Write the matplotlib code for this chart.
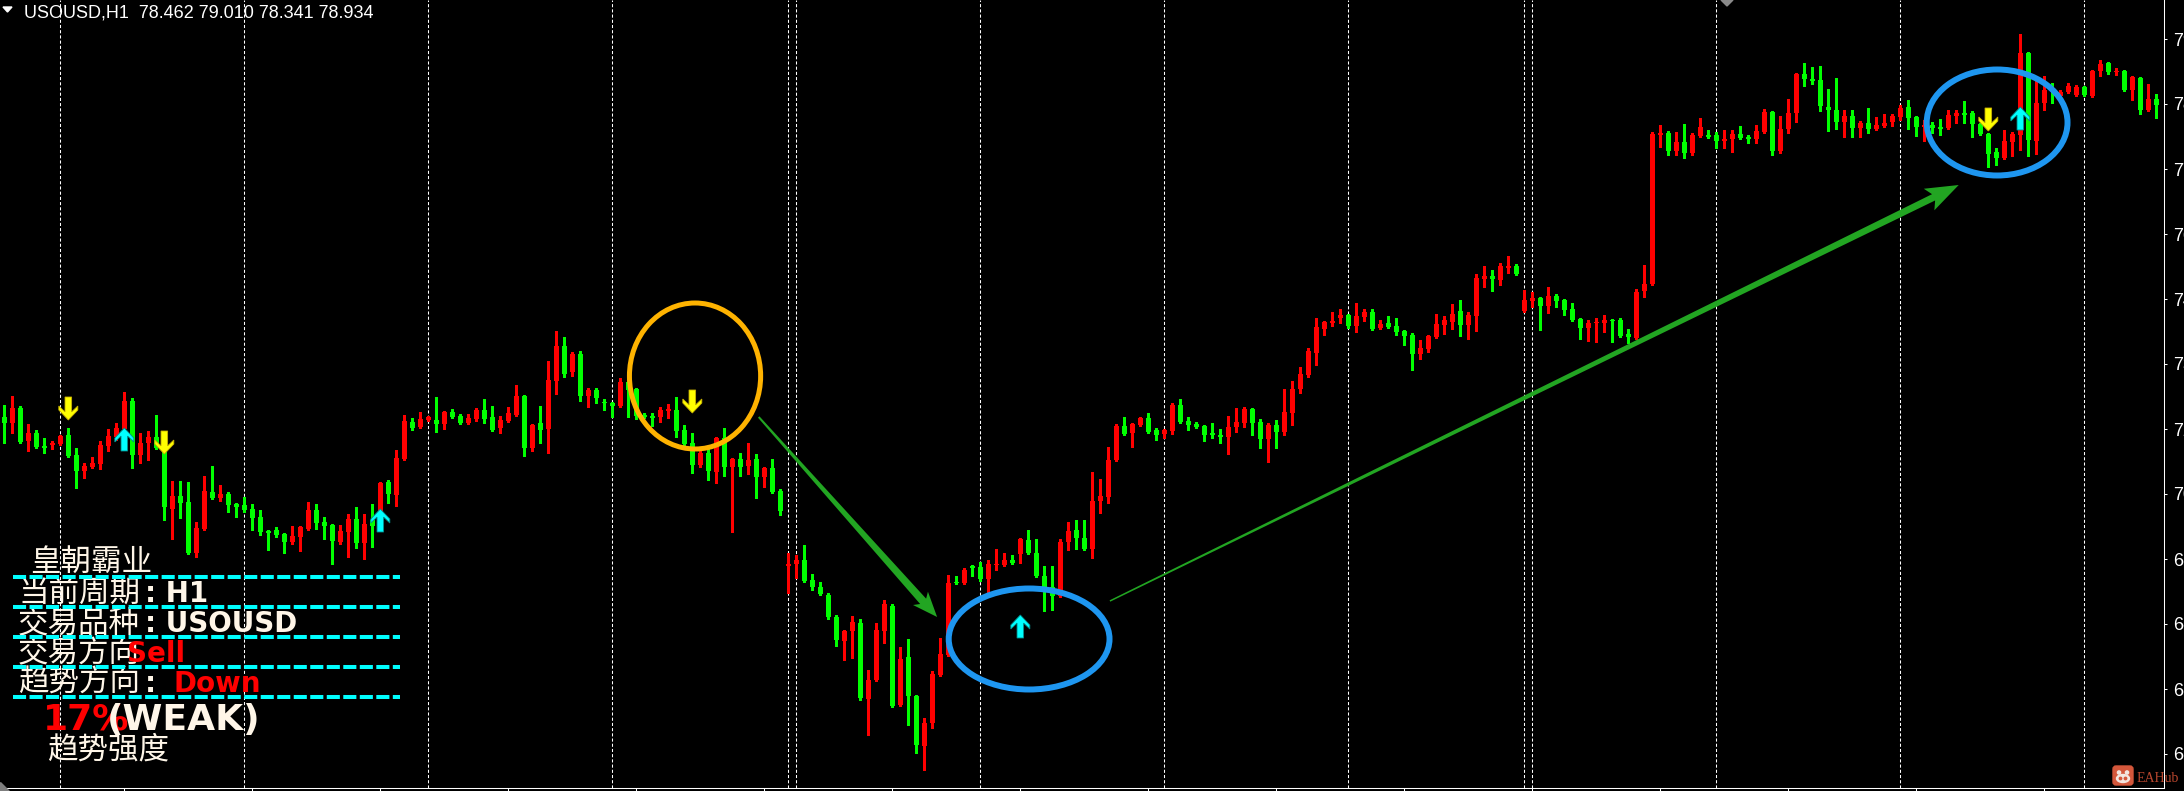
import numpy as np
import matplotlib
matplotlib.use('Agg')
import matplotlib.pyplot as plt
from matplotlib.patches import Polygon, Ellipse, FancyBboxPatch, Circle

# USOUSD H1 bars
opens = [
    72.36, 72.24, 72.54, 71.88, 72.04, 71.78, 71.80, 71.82, 72.00, 71.60,
    71.28, 71.36, 71.42, 71.78, 71.96, 72.12, 72.68, 71.60, 71.84, 71.96,
    71.66, 70.52, 70.78, 70.66, 69.64, 70.12, 70.86, 70.74, 70.82, 70.62,
    70.60, 70.52, 70.36, 70.08, 70.10, 70.02, 69.86, 69.96, 70.12, 70.50,
    70.26, 70.20, 69.86, 70.06, 70.32, 69.84, 70.30, 70.46, 71.06, 70.80,
    71.52, 72.26, 72.16, 72.30, 72.30, 72.22, 72.46, 72.38, 72.24, 72.32,
    72.50, 72.36, 72.14, 72.28, 72.40, 72.78, 71.74, 72.24, 72.12, 73.08,
    73.78, 73.26, 73.62, 72.78, 72.90, 72.66, 72.64, 72.58, 73.06, 72.92,
    72.40, 72.38, 72.36, 72.48, 72.50, 72.10, 71.84, 71.40, 71.64, 71.26,
    71.94, 71.36, 71.52, 71.38, 71.52, 71.16, 71.34, 70.88, 69.38, 69.42,
    69.50, 69.10, 68.96, 68.80, 68.36, 67.88, 68.08, 68.24, 66.72, 67.10,
    68.08, 68.58, 66.60, 67.56, 66.78, 65.78, 66.24, 67.20, 67.60, 69.06,
    69.04, 69.38, 69.36, 69.12, 69.40, 69.40, 69.50, 69.62, 69.90, 69.64,
    69.18, 68.96, 68.78, 69.86, 70.10, 69.94, 69.72, 70.68, 70.76, 71.50,
    72.18, 72.04, 72.20, 72.34, 72.10, 72.02, 72.08, 72.60, 72.28, 72.22,
    72.18, 72.04, 72.00, 71.96, 72.16, 72.24, 72.52, 72.26, 71.92, 72.20,
    72.06, 72.44, 72.92, 73.20, 73.64, 74.12, 74.24, 74.34, 74.40, 74.18,
    74.36, 74.46, 74.14, 74.24, 74.18, 74.08, 74.00, 73.62, 73.72, 73.96,
    74.20, 74.26, 74.48, 74.20, 74.38, 75.12, 75.18, 75.10, 75.34, 75.38,
    74.48, 74.68, 74.74, 74.58, 74.78, 74.70, 74.52, 74.32, 74.14, 74.24,
    74.24, 74.30, 74.30, 74.02, 73.94, 74.88, 75.02, 78.00, 78.04, 77.68,
    77.86, 77.64, 77.98, 78.00, 78.00, 77.88, 77.92, 78.02, 77.96, 77.92,
    78.06, 78.46, 77.68, 78.12, 78.44, 79.22, 79.12, 79.10, 78.56, 78.50,
    78.26, 78.38, 78.14, 78.24, 78.12, 78.18, 78.26, 78.36, 78.56, 78.36,
    78.16, 78.20, 78.16, 78.14, 78.38, 78.44, 78.44, 78.22, 78.02, 77.66,
    77.54, 77.86, 78.00, 79.64, 77.88, 78.64, 78.94, 78.78, 78.86, 78.80,
    78.96, 78.78, 79.28, 79.44, 79.26, 79.28, 78.90, 79.14, 78.50, 78.72,
]
highs = [
    72.60, 72.78, 72.58, 72.22, 72.10, 71.94, 71.88, 72.00, 72.14, 71.74,
    71.44, 71.56, 71.88, 72.12, 72.24, 72.86, 72.74, 72.04, 72.08, 72.40,
    71.84, 71.08, 71.08, 71.06, 70.26, 71.18, 71.38, 71.00, 70.86, 70.64,
    70.76, 70.62, 70.50, 70.10, 70.16, 70.04, 70.18, 70.18, 70.66, 70.62,
    70.36, 70.22, 70.20, 70.42, 70.56, 70.42, 70.62, 71.06, 71.10, 71.70,
    72.40, 72.34, 72.46, 72.38, 72.76, 72.48, 72.52, 72.42, 72.42, 72.54,
    72.72, 72.58, 72.38, 72.56, 73.00, 72.80, 72.22, 72.58, 73.48, 74.08,
    73.96, 73.66, 73.68, 72.94, 72.94, 72.72, 72.66, 73.14, 73.10, 72.94,
    72.44, 72.44, 72.56, 72.62, 72.76, 72.20, 72.04, 71.76, 71.76, 71.96,
    72.14, 71.54, 71.64, 71.84, 71.62, 71.36, 71.52, 70.92, 69.64, 69.60,
    69.80, 69.22, 69.06, 68.84, 68.40, 68.10, 68.38, 68.32, 67.30, 68.24,
    68.70, 68.62, 67.76, 67.92, 66.80, 66.34, 67.28, 67.94, 69.20, 69.18,
    69.34, 69.40, 69.46, 69.50, 69.72, 69.64, 69.60, 69.94, 70.10, 69.92,
    69.38, 69.38, 69.92, 70.26, 70.30, 70.30, 71.26, 71.12, 71.76, 72.22,
    72.36, 72.24, 72.36, 72.44, 72.14, 72.12, 72.64, 72.72, 72.36, 72.26,
    72.20, 72.24, 72.12, 72.38, 72.54, 72.56, 72.54, 72.32, 72.24, 72.30,
    72.92, 73.08, 73.36, 73.74, 74.34, 74.28, 74.46, 74.52, 74.42, 74.64,
    74.52, 74.52, 74.30, 74.38, 74.34, 74.10, 74.04, 73.90, 74.00, 74.42,
    74.38, 74.62, 74.70, 74.46, 75.22, 75.38, 75.30, 75.44, 75.58, 75.42,
    74.90, 74.86, 74.76, 74.96, 74.82, 74.72, 74.64, 74.34, 74.30, 74.34,
    74.40, 74.32, 74.34, 74.12, 74.92, 75.40, 78.06, 78.20, 78.08, 78.06,
    78.22, 78.04, 78.34, 78.10, 78.06, 78.10, 78.10, 78.18, 78.00, 78.20,
    78.52, 78.48, 78.38, 78.72, 79.24, 79.44, 79.36, 79.38, 78.92, 79.14,
    78.50, 78.50, 78.28, 78.54, 78.36, 78.42, 78.42, 78.60, 78.70, 78.38,
    78.30, 78.26, 78.32, 78.50, 78.50, 78.68, 78.48, 78.24, 78.04, 77.74,
    78.10, 78.06, 80.02, 79.66, 79.18, 79.18, 79.04, 78.90, 79.04, 79.00,
    78.98, 79.30, 79.50, 79.46, 79.34, 79.30, 79.18, 79.16, 79.02, 78.82,
]
lows = [
    71.84, 72.04, 71.84, 71.68, 71.74, 71.64, 71.72, 71.80, 71.56, 70.94,
    71.14, 71.34, 71.32, 71.68, 71.90, 72.10, 71.34, 71.44, 71.50, 71.72,
    70.30, 69.92, 70.34, 69.62, 69.56, 70.10, 70.72, 70.68, 70.46, 70.36,
    70.46, 70.10, 70.00, 69.70, 69.96, 69.64, 69.82, 69.68, 70.10, 70.12,
    69.92, 69.42, 69.82, 69.56, 69.74, 69.52, 69.76, 70.30, 70.64, 70.58,
    71.50, 72.10, 72.14, 72.28, 72.06, 72.12, 72.34, 72.22, 72.22, 72.28,
    72.24, 72.08, 72.04, 72.26, 72.38, 71.58, 71.68, 71.84, 71.64, 72.82,
    73.16, 73.18, 72.68, 72.56, 72.64, 72.50, 72.36, 72.56, 72.36, 72.32,
    72.34, 72.18, 72.26, 72.34, 71.96, 71.76, 71.24, 71.36, 71.10, 71.04,
    71.18, 70.06, 71.18, 71.22, 70.74, 70.96, 70.84, 70.40, 68.84, 69.14,
    69.06, 68.90, 68.80, 68.32, 67.78, 67.50, 67.54, 66.70, 66.00, 67.08,
    67.84, 66.56, 66.58, 66.20, 65.64, 65.30, 66.14, 67.18, 67.58, 69.02,
    69.02, 69.18, 69.08, 68.86, 69.30, 69.38, 69.42, 69.44, 69.62, 69.16,
    68.48, 68.50, 68.76, 69.70, 69.72, 69.70, 69.54, 70.44, 70.64, 71.48,
    72.00, 71.76, 72.18, 72.04, 71.90, 71.94, 72.02, 72.24, 72.10, 72.14,
    71.88, 71.94, 71.84, 71.62, 72.06, 72.16, 72.00, 71.74, 71.46, 71.74,
    72.00, 72.20, 72.84, 73.16, 73.40, 74.00, 74.18, 74.24, 74.14, 74.06,
    74.28, 74.10, 74.12, 74.14, 74.00, 73.80, 73.30, 73.52, 73.66, 73.94,
    74.02, 74.12, 73.98, 73.92, 74.08, 74.96, 74.88, 75.00, 75.24, 75.20,
    74.46, 74.56, 74.10, 74.44, 74.56, 74.40, 74.28, 73.92, 73.88, 73.86,
    74.06, 73.86, 73.96, 73.84, 73.92, 74.76, 75.00, 77.76, 77.60, 77.60,
    77.54, 77.60, 77.96, 77.94, 77.74, 77.74, 77.66, 77.92, 77.84, 77.84,
    78.04, 77.60, 77.64, 78.04, 78.26, 78.98, 79.02, 78.48, 78.08, 78.12,
    77.96, 77.96, 77.96, 78.04, 78.10, 78.16, 78.18, 78.30, 78.12, 77.98,
    77.88, 78.04, 78.00, 78.12, 78.24, 78.24, 77.96, 78.00, 77.36, 77.40,
    77.52, 77.58, 77.70, 77.58, 77.62, 78.50, 78.64, 78.76, 78.84, 78.78,
    78.78, 78.76, 79.18, 79.22, 79.20, 78.88, 78.70, 78.42, 78.48, 78.34,
]
closes = [
    72.24, 72.54, 71.86, 72.04, 71.76, 71.74, 71.84, 71.98, 71.58, 71.28,
    71.38, 71.44, 71.80, 71.98, 72.14, 72.68, 71.60, 71.84, 71.96, 71.74,
    70.56, 70.78, 70.64, 69.64, 70.14, 70.88, 70.74, 70.82, 70.60, 70.56,
    70.50, 70.34, 70.06, 70.04, 70.00, 69.86, 69.98, 70.16, 70.50, 70.24,
    70.18, 69.88, 70.08, 70.32, 69.84, 70.22, 70.18, 71.04, 70.82, 71.54,
    72.28, 72.14, 72.32, 72.36, 72.22, 72.46, 72.36, 72.24, 72.34, 72.50,
    72.32, 72.10, 72.30, 72.44, 72.78, 71.74, 72.20, 72.10, 73.10, 73.78,
    73.22, 73.62, 72.78, 72.90, 72.74, 72.64, 72.58, 73.06, 72.90, 72.38,
    72.36, 72.34, 72.50, 72.52, 72.08, 71.82, 71.40, 71.64, 71.28, 71.94,
    71.36, 71.52, 71.36, 71.50, 71.16, 71.34, 70.86, 70.48, 69.42, 69.50,
    69.08, 68.96, 68.82, 68.36, 67.90, 68.08, 68.26, 66.74, 67.10, 68.10,
    68.62, 66.58, 67.52, 66.78, 65.80, 66.24, 67.22, 67.62, 69.04, 69.04,
    69.30, 69.34, 69.12, 69.42, 69.42, 69.50, 69.44, 69.92, 69.64, 69.18,
    68.96, 68.78, 69.86, 70.08, 69.94, 69.72, 70.68, 70.78, 71.50, 72.18,
    72.02, 72.22, 72.34, 72.06, 72.00, 72.10, 72.60, 72.26, 72.20, 72.16,
    72.00, 72.00, 71.96, 72.16, 72.26, 72.52, 72.24, 71.92, 72.20, 72.06,
    72.46, 72.92, 73.22, 73.68, 74.16, 74.26, 74.28, 74.40, 74.18, 74.38,
    74.46, 74.12, 74.22, 74.16, 74.06, 73.98, 73.62, 73.74, 73.98, 74.22,
    74.30, 74.42, 74.20, 74.40, 75.14, 75.18, 75.12, 75.38, 75.38, 75.22,
    74.70, 74.74, 74.58, 74.78, 74.68, 74.50, 74.30, 74.14, 74.24, 74.26,
    74.30, 74.28, 73.98, 73.96, 74.86, 75.02, 78.02, 78.04, 77.68, 77.86,
    77.64, 78.00, 78.16, 77.96, 77.88, 77.92, 78.02, 77.94, 77.92, 78.08,
    78.46, 77.68, 78.12, 78.44, 79.22, 79.12, 79.08, 78.58, 78.50, 78.26,
    78.38, 78.14, 78.24, 78.12, 78.20, 78.24, 78.38, 78.54, 78.34, 78.16,
    78.20, 78.14, 78.12, 78.40, 78.44, 78.40, 78.22, 78.02, 77.62, 77.54,
    77.88, 78.02, 79.64, 77.90, 78.64, 78.90, 78.90, 78.86, 78.98, 78.96,
    78.80, 79.28, 79.42, 79.26, 79.28, 78.90, 79.16, 78.50, 78.72, 78.60,
]

# indicator signals: bar index and arrow tip price
sell_bars = [8, 20, 86, 248]
sell_tips = [72.30, 71.62, 72.44, 78.08]
buy_bars = [15, 47, 127, 252]
buy_tips = [72.14, 70.52, 68.40, 78.56]

price_ticks = [79.92 - 1.3 * k for k in range(12)]
grid_bars = [7 + 23 * k for k in range(12)]
period_bars = [98, 190]
time_ticks = [15 + 16 * k for k in range(16)]

title = 'USOUSD,H1  78.462 79.010 78.341 78.934'

W, H, DPI = 2184, 791, 100
fig = plt.figure(figsize=(W / DPI, H / DPI), dpi=DPI, facecolor='black')
ax = fig.add_axes([0, 3 / H, 2164 / W, 788 / H])
ax.set_facecolor('black')
ax.set_xlim(-0.54, 269.96)
ax.set_ylim(64.94, 80.7)

for s in ['top', 'left']:
    ax.spines[s].set_visible(False)
for s in ['right', 'bottom']:
    ax.spines[s].set_color('white')
    ax.spines[s].set_linewidth(0.75)

ax.yaxis.tick_right()
ax.set_yticks(price_ticks)
ax.set_yticklabels([f'{t:.3f}' for t in price_ticks], fontfamily='Liberation Sans',
                   fontsize=13, color='white')
ax.tick_params(axis='y', direction='out', length=2.2, width=0.75, colors='white', pad=4.5)
ax.set_xticks(time_ticks)
ax.tick_params(axis='x', direction='out', length=2.2, width=0.75, color='white',
               labelbottom=False)

for gx in grid_bars + period_bars:
    ax.axvline(gx, color='white', lw=0.75, dashes=(3, 2), zorder=1)

# candles: red = up, green = down
o, h, l, c = map(np.array, (opens, highs, lows, closes))
x = np.arange(len(o))
cols = np.where(c > o, '#FF0000', '#00FF00')
ax.vlines(x, l, h, colors=cols, linewidth=0.75, zorder=3, antialiased=False)
ax.bar(x, np.maximum(np.abs(c - o), 0.02), bottom=np.minimum(o, c), width=0.62,
       color=cols, linewidth=0, zorder=4, antialiased=False)


def to_data(anchor, offs):
    X, Y = ax.transData.transform(anchor)
    pts = np.column_stack([X + offs[:, 0], Y + offs[:, 1]])
    return ax.transData.inverted().transform(pts)


# arrow glyph in pixels, y measured down from the top, tip at (0, 23)
glyph = np.array([(-3.3, 0), (3.3, 0), (3.3, 14.9), (9.5, 9), (9.5, 13), (0, 23),
                  (-9.5, 13), (-9.5, 9), (-3.3, 14.9)])


def signal(bar, tip, down, face, edge):
    offs = np.column_stack([glyph[:, 0], (23 - glyph[:, 1]) * (1 if down else -1)])
    ax.add_patch(Polygon(to_data((bar, tip), offs), closed=True, facecolor=face,
                         edgecolor=edge, lw=0.6, zorder=8))


for b, t in zip(sell_bars, sell_tips):
    signal(b, t, True, '#FFFF00', '#C8B000')
for b, t in zip(buy_bars, buy_tips):
    signal(b, t, False, '#00FFFF', '#008C8C')


def trend_arrow(start, end, w0, w1, head_len, head_half, back):
    S = ax.transData.transform(start)
    E = ax.transData.transform(end)
    d = (E - S) / np.hypot(*(E - S))
    n = np.array([-d[1], d[0]])
    B = E - d * head_len
    pts = np.array([S + n * w0 / 2, B + n * w1 / 2, B - d * back + n * head_half, E,
                    B - d * back - n * head_half, B - n * w1 / 2, S - n * w0 / 2])
    ax.add_patch(Polygon(ax.transData.inverted().transform(pts), closed=True,
                         facecolor='#22A522', edgecolor='none', zorder=6))


trend_arrow((94.3, 72.36), (116.6, 68.36), 2, 8, 21, 10, 4)
trend_arrow((138.2, 68.68), (244.3, 77.0), 1.5, 7, 28, 12, 5)

ax.add_patch(Ellipse((86.34, 73.18), 16.4, 2.92, fill=False, edgecolor='#FFB300',
                     lw=3.6, zorder=7))
ax.add_patch(Ellipse((128.1, 67.92), 20.1, 2.02, fill=False, edgecolor='#1E96F0',
                     lw=4.3, zorder=7))
ax.add_patch(Ellipse((249.1, 78.25), 17.6, 2.12, fill=False, edgecolor='#1E96F0',
                     lw=4.3, zorder=7))

# overlay in screen pixels for the text panel, header and logo
ov = fig.add_axes([0, 0, 1, 1], zorder=10)
ov.set_xlim(0, W)
ov.set_ylim(H, 0)
ov.axis('off')

ov.add_patch(Polygon([(3, 7), (12, 7), (7.5, 12)], color='white'))
ov.text(24, 17, title, fontfamily='Liberation Sans', fontsize=13, color='white',
        va='baseline')
ov.add_patch(Polygon([(1721, 0), (1733, 0), (1727, 6)], color='#8A8A8A'))
ov.add_patch(Polygon([(0, 782), (0, 791), (9, 791)], color='#7F7F7F'))

cjk = ['Noto Sans CJK SC', 'DejaVu Sans']
cream = '#FFF6E8'
red = '#FF0000'
bold = dict(fontfamily='DejaVu Sans', fontweight='bold', va='baseline')

ov.text(30, 571, '皇朝霸业', family=cjk, fontsize=22, color=cream, va='baseline')
ov.text(18, 603, '当前周期', family=cjk, fontsize=22, color=cream, va='baseline')
ov.text(145, 602, ': H1', fontsize=20, color=cream, **bold)
ov.text(18, 632, '交易品种', family=cjk, fontsize=22, color=cream, va='baseline')
ov.text(145, 632, ': USOUSD', fontsize=20, color=cream, **bold)
ov.text(18, 662, '交易方向', family=cjk, fontsize=22, color=cream, va='baseline')
ov.text(127, 662, 'Sell', fontsize=20, color=red, **bold)
ov.text(18, 692, '趋势方向', family=cjk, fontsize=22, color=cream, va='baseline')
ov.text(145, 692, ':', fontsize=20, color=cream, **bold)
ov.text(173, 692, 'Down', fontsize=20, color=red, **bold)
ov.text(43, 730, '17%', fontsize=26, color=red, **bold)
ov.text(107, 730, '(WEAK)', fontsize=26, color=cream, **bold)
ov.text(47, 758, '趋势强度', family=cjk, fontsize=22, color=cream, va='baseline')

for yy in [577, 607, 637, 667, 697]:
    ov.plot([13, 400], [yy, yy], color='#00FFFF', lw=2.9, dashes=(3.25, 0.85),
            dash_capstyle='butt', zorder=12)

# EAHub watermark
ov.add_patch(FancyBboxPatch((2113, 766), 20, 19, boxstyle='round,pad=0,rounding_size=3',
                            color='#D4573B'))
ov.add_patch(Ellipse((2123, 778.5), 13, 8, color='#F3E6E0'))
ov.add_patch(Circle((2119, 772.5), 1.6, color='#F3E6E0'))
ov.add_patch(Circle((2127, 772.5), 1.6, color='#F3E6E0'))
ov.add_patch(Circle((2120.5, 778.5), 1.2, color='#D4573B'))
ov.add_patch(Circle((2125.5, 778.5), 1.2, color='#D4573B'))
ov.text(2137, 782, 'EAHub', fontfamily='Liberation Serif', fontsize=10,
        color='#B9472E', va='baseline')

fig.savefig('out.png', dpi=DPI, facecolor='black')
